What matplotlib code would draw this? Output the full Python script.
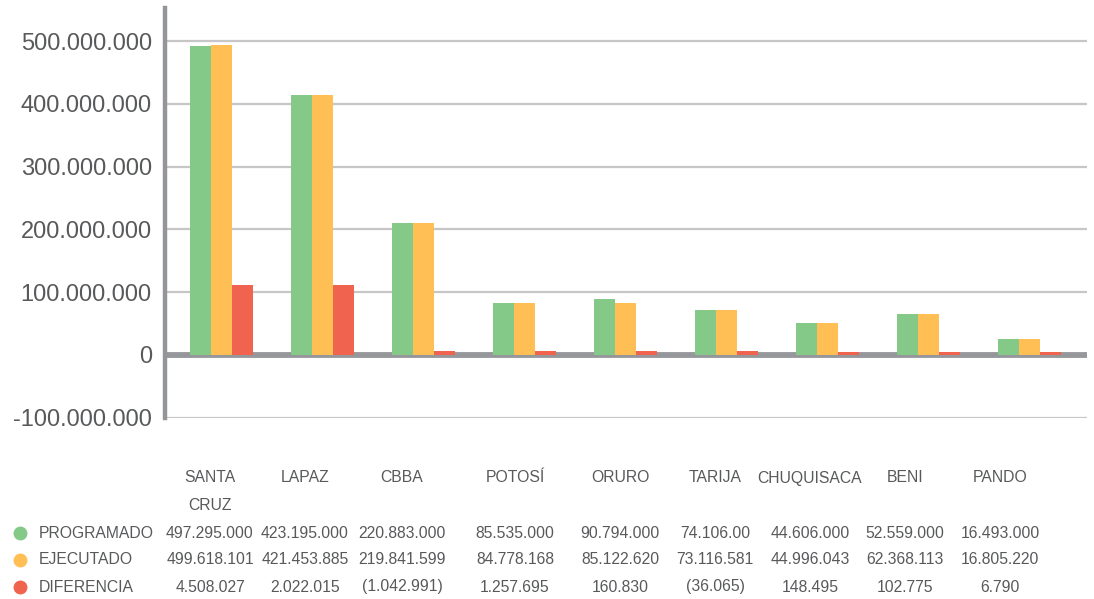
import numpy as np
import matplotlib
matplotlib.use('Agg')
import matplotlib.pyplot as plt
from matplotlib.lines import Line2D
from matplotlib.ticker import FuncFormatter

plt.rcParams['font.family'] = ['Liberation Sans', 'DejaVu Sans']

departamentos = ['SANTA CRUZ', 'LAPAZ', 'CBBA', 'POTOSÍ', 'ORURO', 'TARIJA', 'CHUQUISACA', 'BENI', 'PANDO']
cabecera = ['SANTA\nCRUZ', 'LAPAZ', 'CBBA', 'POTOSÍ', 'ORURO', 'TARIJA', 'CHUQUISACA', 'BENI', 'PANDO']
programado = [493, 415, 210, 83, 89, 72, 51, 65, 25]
ejecutado = [494, 415, 210, 83, 83, 72, 51, 65, 25]
diferencia = [111, 111, 7, 7, 7, 7, 5.5, 5.5, 5.5]

# Tabla de valores
series = ['PROGRAMADO', 'EJECUTADO', 'DIFERENCIA']
tabla_programado = ['497.295.000', '423.195.000', '220.883.000', '85.535.000', '90.794.000',
                    '74.106.00', '44.606.000', '52.559.000', '16.493.000']
tabla_ejecutado = ['499.618.101', '421.453.885', '219.841.599', '84.778.168', '85.122.620',
                   '73.116.581', '44.996.043', '62.368.113', '16.805.220']
tabla_diferencia = ['4.508.027', '2.022.015', '(1.042.991)', '1.257.695', '160.830',
                    '(36.065)', '148.495', '102.775', '6.790']

colores = ['#85C988', '#FFBF55', '#F0634F']
gris_texto = '#58595B'

W, H = 1094, 599
fig = plt.figure(figsize=(W / 100, H / 100), dpi=100)

# ejes en pixeles
left, right, top, bottom = 165, 1087, 8, 417.7
ax = fig.add_axes([left / W, 1 - bottom / H, (right - left) / W, (bottom - top) / H])

x = np.arange(len(departamentos))
w = 0.208
for k, vals in enumerate([programado, ejecutado, diferencia]):
    ax.bar(x + (k - 1) * w, np.array(vals) * 1e6, width=w, color=colores[k], zorder=3)

ax.set_xlim(-0.559, 8.57)
ax.set_ylim(-100e6, 553e6)
ax.set_yticks(np.arange(-100e6, 501e6, 100e6))
ax.yaxis.set_major_formatter(FuncFormatter(lambda v, p: f'{v:,.0f}'.replace(',', '.')))
ax.tick_params(axis='y', length=0, pad=9.5, labelsize=17, labelcolor=gris_texto)
ax.set_xticks([])

ax.grid(axis='y', color='#C6C6C6', linewidth=1.6, zorder=1)
ax.axhline(0, color='#96979A', linewidth=4.2, zorder=2)

for s in ['top', 'right', 'bottom']:
    ax.spines[s].set_visible(False)
ax.spines['left'].set_color('#939598')
ax.spines['left'].set_linewidth(3.2)

# tabla debajo del grafico
col_x = [210, 305, 402, 515, 620, 715, 810, 905, 1000]
fs = 11.3
for cx, nombre in zip(col_x, cabecera):
    for j, linea in enumerate(nombre.split('\n')):
        fig.text(cx / W, 1 - (478 + 27 * j) / H, linea, ha='center', va='center',
                 fontsize=fs, color=gris_texto)

filas_y = [533, 560, 587]
for nombre, fila, color, fy in zip(series, [tabla_programado, tabla_ejecutado, tabla_diferencia], colores, filas_y):
    fig.add_artist(Line2D([20 / W], [1 - fy / H], marker='o', markersize=9, color=color,
                          linestyle='none', transform=fig.transFigure))
    fig.text(39 / W, 1 - fy / H, nombre, ha='left', va='center', fontsize=fs, color=gris_texto)
    for cx, txt in zip(col_x, fila):
        fig.text(cx / W, 1 - fy / H, txt, ha='center', va='center', fontsize=fs, color=gris_texto)

fig.savefig('out.png', dpi=100)
